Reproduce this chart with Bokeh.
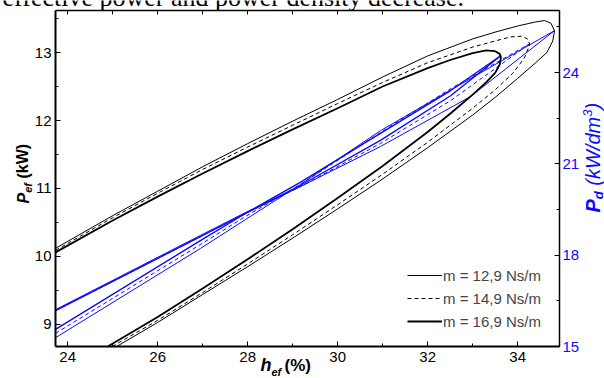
from bokeh.plotting import figure
from bokeh.models import (Range1d, LinearAxis, SingleIntervalTicker, FixedTicker, Label,
                          Legend, LegendItem)
from bokeh.embed import file_html
from bokeh.resources import INLINE

# ---------------- data ----------------
legend_labels = ["m = 12,9 Ns/m", "m = 14,9 Ns/m", "m = 16,9 Ns/m"]

# axis extents of the plot box
x_min, x_max = 23.73, 34.93          # effective efficiency (%)
pef_min, pef_max = 8.676, 13.618     # effective power (kW)
pd_min, pd_max = 15.0, 26.04         # power density (kW/dm3)
top_ticks = [24, 25, 26, 27, 28, 29, 30, 31, 32, 33, 34]

# effective power P_ef (kW) vs effective efficiency (%) : upper and lower branches
pef_up_x_129 = [23.73, 25.0, 26.0, 27.0, 28.0, 29.0, 30.0, 31.0, 32.0, 33.0, 33.5, 34.0, 34.4, 34.6, 34.74, 34.82]
pef_up_y_129 = [10.12, 10.60, 10.96, 11.32, 11.66, 11.99, 12.31, 12.64, 12.95, 13.20, 13.30, 13.39, 13.45, 13.47, 13.43, 13.32]
pef_lo_x_129 = [25.10, 26.0, 27.0, 28.0, 29.0, 30.0, 31.0, 32.0, 33.0, 33.5, 34.0, 34.4, 34.65, 34.78, 34.82]
pef_lo_y_129 = [8.68, 9.03, 9.44, 9.85, 10.27, 10.70, 11.14, 11.60, 12.08, 12.34, 12.62, 12.85, 13.00, 13.17, 13.32]

pef_up_x_149 = [23.73, 25.0, 26.0, 27.0, 28.0, 29.0, 30.0, 31.0, 32.0, 33.0, 33.5, 33.85, 34.1, 34.22, 34.27]
pef_up_y_149 = [10.09, 10.57, 10.93, 11.28, 11.61, 11.93, 12.25, 12.56, 12.85, 13.08, 13.17, 13.23, 13.24, 13.20, 13.12]
pef_lo_x_149 = [25.0, 26.0, 27.0, 28.0, 29.0, 30.0, 31.0, 32.0, 33.0, 33.5, 33.9, 34.15, 34.27]
pef_lo_y_149 = [8.68, 9.06, 9.47, 9.89, 10.32, 10.76, 11.21, 11.68, 12.18, 12.45, 12.70, 12.92, 13.12]

pef_up_x_169 = [23.73, 25.0, 26.0, 27.0, 28.0, 29.0, 30.0, 31.0, 32.0, 32.5, 33.0, 33.3, 33.5, 33.6, 33.63]
pef_up_y_169 = [10.06, 10.53, 10.88, 11.22, 11.55, 11.87, 12.18, 12.50, 12.77, 12.89, 12.99, 13.03, 13.02, 12.98, 12.93]
pef_lo_x_169 = [24.9, 26.0, 27.0, 28.0, 29.0, 30.0, 31.0, 32.0, 32.5, 33.0, 33.3, 33.5, 33.6, 33.63]
pef_lo_y_169 = [8.68, 9.11, 9.53, 9.96, 10.40, 10.86, 11.33, 11.83, 12.10, 12.38, 12.56, 12.70, 12.82, 12.93]

# power density P_d (kW/dm3) vs effective efficiency (%) : two branches
pd_x_129 = [23.73, 26.95, 27.95, 29.17, 30.95, 32.95, 34.82]
pd_a_129 = [16.21, 18.65, 19.40, 20.25, 21.57, 23.21, 25.38]
pd_b_129 = [15.29, 18.22, 19.17, 20.32, 22.09, 23.80, 25.38]

pd_x_149 = [23.73, 26.95, 27.95, 29.17, 30.95, 32.51, 34.27]
pd_a_149 = [16.18, 18.61, 19.37, 20.25, 21.67, 23.08, 24.95]
pd_b_149 = [15.43, 18.35, 19.27, 20.32, 22.03, 23.47, 24.95]

pd_x_169 = [23.73, 26.95, 27.95, 29.17, 30.95, 32.51, 33.63]
pd_a_169 = [16.18, 18.61, 19.37, 20.29, 21.77, 23.24, 24.56]
pd_b_169 = [15.56, 18.48, 19.37, 20.39, 22.00, 23.41, 24.56]

# ---------------- layout (pixels) ----------------
W, H = 604, 378
BOX_L, BOX_R, BOX_T, BOX_B = 55, 559, 10, 346   # plot box inside the canvas


def extend(lo, hi, px_lo, px_hi, span):
    k = (hi - lo) / span
    return lo - px_lo * k, hi + px_hi * k


xr = extend(x_min, x_max, BOX_L, W - BOX_R, BOX_R - BOX_L)
yr = extend(pef_min, pef_max, H - BOX_B, BOX_T, BOX_B - BOX_T)
pr = extend(pd_min, pd_max, H - BOX_B, BOX_T, BOX_B - BOX_T)

FONT = "Liberation Sans"
BLUE = "#0a0aff"

p = figure(width=W, height=H, output_backend="svg", toolbar_location=None,
           x_range=Range1d(*xr), y_range=Range1d(*yr),
           min_border=0, min_border_left=0, min_border_right=0,
           min_border_top=0, min_border_bottom=0)
p.extra_y_ranges = {"pd": Range1d(*pr)}
p.xgrid.visible = False
p.ygrid.visible = False
p.outline_line_color = None
p.background_fill_color = "white"
p.border_fill_color = "white"


def style_axis(ax, color="black", font_size="15px", width=1.5):
    ax.major_tick_in = 5
    ax.major_tick_out = 0
    ax.minor_tick_in = 3
    ax.minor_tick_out = 0
    ax.axis_line_width = width
    ax.axis_line_color = "black"
    ax.major_tick_line_color = "black"
    ax.minor_tick_line_color = "black"
    ax.major_label_text_font = FONT
    ax.major_label_text_font_size = font_size
    ax.major_label_text_color = color


xa = p.xaxis[0]
xa.ticker = SingleIntervalTicker(interval=2, num_minor_ticks=2)
style_axis(xa, width=2)
xa.major_label_standoff = 5
xa.fixed_location = pef_min
xa.bounds = (x_min, x_max)

ya = p.yaxis[0]
ya.ticker = SingleIntervalTicker(interval=1, num_minor_ticks=2)
style_axis(ya, width=2)
ya.major_label_standoff = 4
ya.fixed_location = x_min
ya.bounds = (pef_min, pef_max)

ra = LinearAxis(y_range_name="pd", ticker=SingleIntervalTicker(interval=3, num_minor_ticks=2))
style_axis(ra, color=BLUE)
ra.major_label_standoff = 3
ra.fixed_location = x_max
ra.bounds = (pd_min, pd_max)
p.add_layout(ra, "right")

ta = LinearAxis(ticker=FixedTicker(ticks=[], minor_ticks=top_ticks))
style_axis(ta)
ta.minor_tick_in = 4
ta.fixed_location = pef_max
ta.bounds = (x_min, x_max)
p.add_layout(ta, "above")

# ---------------- curves ----------------
styles = [dict(line_width=1.0, line_dash="solid"),
          dict(line_width=1.0, line_dash="4 3"),
          dict(line_width=1.8, line_dash="solid")]

black_sets = [(pef_up_x_129, pef_up_y_129, pef_lo_x_129, pef_lo_y_129),
              (pef_up_x_149, pef_up_y_149, pef_lo_x_149, pef_lo_y_149),
              (pef_up_x_169, pef_up_y_169, pef_lo_x_169, pef_lo_y_169)]
blue_sets = [(pd_x_129, pd_a_129, pd_b_129),
             (pd_x_149, pd_a_149, pd_b_149),
             (pd_x_169, pd_a_169, pd_b_169)]

items = []
for (ux, uy, lx, ly), (bx, ba, bb), st, lab in zip(black_sets, blue_sets, styles, legend_labels):
    bw = 1.0 if st["line_width"] < 1.5 else 1.4
    p.line(bx, ba, y_range_name="pd", line_color=BLUE, line_width=bw, line_dash=st["line_dash"])
    p.line(bx, bb, y_range_name="pd", line_color=BLUE, line_width=bw, line_dash=st["line_dash"])
    xs = list(ux) + list(lx)[::-1]
    ys = list(uy) + list(ly)[::-1]
    r = p.line(xs, ys, line_color="black", line_join="round", **st)
    items.append(LegendItem(label=lab, renderers=[r]))

legend = Legend(items=items, location=(407, H - 330), glyph_width=35, glyph_height=18,
                label_height=18, label_standoff=1, spacing=5, padding=0, margin=0,
                border_line_alpha=0, background_fill_alpha=0,
                label_text_font=FONT, label_text_font_size="15px")
p.add_layout(legend)

# ---------------- texts (canvas pixels; cy is the text's middle line, from the top) ----------------
def lab(text, cx, cy, size, style="normal", color="black", angle=0.0, font=FONT):
    p.add_layout(Label(x=cx, y=H - cy, x_units="screen", y_units="screen", text=text,
                       text_font=font, text_font_size=size, text_font_style=style,
                       text_color=color, angle=angle, text_align="left",
                       text_baseline="middle"))

# cropped body text above the figure
lab("effective power and power density decrease.", 2, -2.8, "26px", font="Liberation Serif")

# x axis label
lab("h", 260, 364.8, "18px", "bold italic")
lab("ef", 271, 371.2, "11px", "bold italic")
lab("(%)", 284, 365.1, "17px", "bold")

# left axis label (rotated, reading upwards; cx is the middle line)
ang = 1.5708
lab("P", 22.5, 203, "16px", "bold italic", angle=ang)
lab("ef", 27.2, 192.3, "11px", "bold italic", angle=ang)
lab("(kW)", 22.5, 178.1, "16px", "bold", angle=ang)

# right axis label (rotated)
lab("P", 592.1, 212, "20px", "bold italic", color=BLUE, angle=ang)
lab("d", 597.5, 198.7, "13px", "bold italic", color=BLUE, angle=ang)
lab("(kW/dm", 592.1, 185.2, "20px", "italic", color=BLUE, angle=ang)
lab("3", 586.5, 116.3, "13px", "italic", color=BLUE, angle=ang)
lab(")", 592.1, 109.1, "20px", "italic", color=BLUE, angle=ang)

open("out.html", "w").write(file_html(p, INLINE))
